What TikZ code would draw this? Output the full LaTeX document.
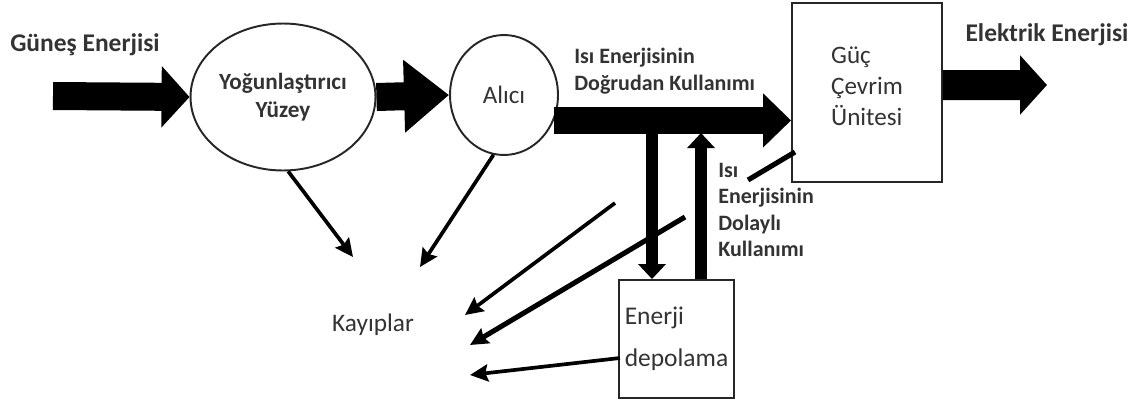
\documentclass[tikz,border=0pt]{standalone}
\usepackage{fontspec}
\setmainfont{Carlito}
\usetikzlibrary{arrows.meta,shapes.geometric}

\colorlet{label text}{black!80}
\colorlet{unit edge}{black!85}
\tikzset{
  bigflow/.style={draw=black, line width=0.56cm, -{Triangle[length=0.56cm,width=1.2cm]}},
  midflow/.style={draw=black, line width=0.54cm, -{Triangle[length=0.56cm,width=1.05cm]}},
  storeflow/.style={draw=black, line width=0.24cm, -{Triangle[length=0.3cm,width=0.54cm]}},
  lossflow/.style={draw=black, line width=2.1pt, -{Stealth[length=0.36cm,width=0.34cm,inset=0.05cm]}}
  }
\tikzstyle{unit}=[draw=unit edge, line width=1.1pt, text=label text, font=\fontsize{14.3}{17.5}\selectfont]
\tikzstyle{title}=[text=label text, font=\bfseries\fontsize{14.5}{17}\selectfont]
\tikzstyle{small title}=[text=label text, align=left, inner sep=0pt, font=\bfseries\fontsize{12.5}{15}\selectfont]

\begin{document}
\begin{tikzpicture}[x=0.02cm, y=-0.02cm]
   \useasboundingbox (0,0) rectangle (1145,403);

   % the units
   \node[unit, ellipse, minimum width=3.7cm, minimum height=2.94cm, inner sep=0pt,
         align=center, font=\bfseries\fontsize{13.2}{16}\selectfont] (yog) at (283,97) {Yoğunlaştırıcı\\Yüzey};
   \node[unit, ellipse, minimum width=2.16cm, minimum height=2.4cm, inner sep=0pt] (alici) at (504,95) {Alıcı};
   \node[unit, rectangle, minimum width=3cm, minimum height=3.58cm, align=left,
         text depth=0.25cm] (guc) at (867,92.5) {Güç\\Çevrim\\Ünitesi};
   \node[unit, rectangle, minimum width=2.26cm, minimum height=2.36cm, align=left,
         font=\fontsize{14.5}{24}\selectfont] (depo) at (676.5,339) {Enerji\\depolama};

   \node[title] (sun) at (85,45) {Güneş Enerjisi};
   \node[title] (elec) at (1047,35) {Elektrik Enerjisi};
   \node[text=label text, font=\fontsize{14.4}{17}\selectfont] (kayip) at (373,325) {Kayıplar};
   \node[small title, anchor=north west] (direct) at (574,48) {Isı Enerjisinin\\Doğrudan Kullanımı};
   \node[small title, anchor=north west] (indirect) at (718,163) {Isı\\Enerjisinin\\Dolaylı\\Kullanımı};

   \coordinate (sunstart) at (53,96);
   \coordinate (elecend) at (1047,85);
   \coordinate (split) at (652,124);
   \coordinate (join) at (701,133);
   \coordinate (k1) at (353,257);
   \coordinate (k2) at (420,267);
   \coordinate (k3from) at (615,203);
   \coordinate (k3) at (465,315);
   \coordinate (k4from) at (795,152);
   \coordinate (k4gapa) at (748,180);
   \coordinate (k4gapb) at (685,217);
   \coordinate (k4) at (470,345);
   \coordinate (k5from) at (620,358);
   \coordinate (k5) at (470,375);

   % main energy flow
   \path[bigflow] (sunstart) -- (yog.west);
   \path[bigflow, -{Triangle[length=0.9cm,width=1.4cm]}] (yog.east) -- (alici.west);
   \path[midflow] (alici.-27) -- (alici.-27 -| guc.west);
   \path[bigflow, line width=0.6cm, -{Triangle[length=0.54cm,width=1.16cm]}] ([yshift=0.15cm]guc.east) -- (elecend);

   % storage loop
   \path[storeflow] (split) -- (split |- depo.north);
   \path[storeflow] (join |- depo.north) -- (join);

   % losses
   \path[lossflow] (yog.-86) -- (k1);
   \path[lossflow] (alici.-100) -- (k2);
   \path[lossflow] (k3from) -- (k3);
   \draw[line width=2.9pt] (k4from) -- (k4gapa);
   \path[lossflow, line width=2.9pt] (k4gapb) -- (k4);
   \path[lossflow] (k5from) -- (k5);
\end{tikzpicture}
\end{document}
